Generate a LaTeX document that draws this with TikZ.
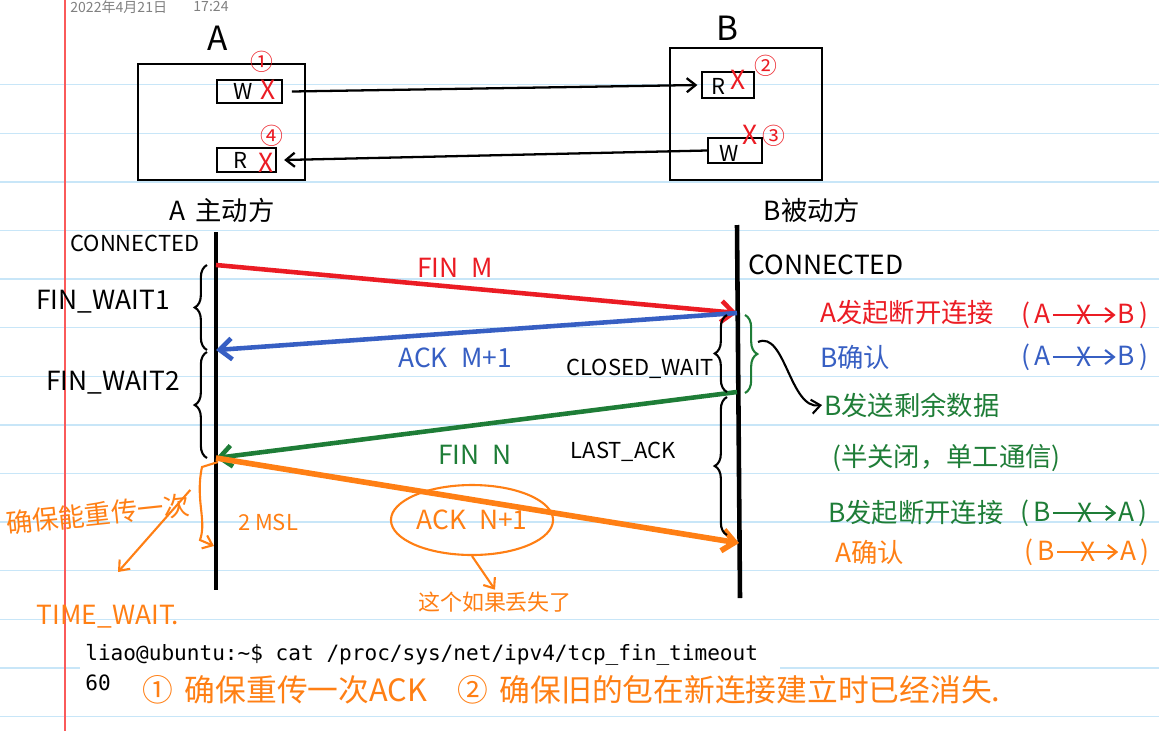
\documentclass[tikz,border=0pt]{standalone}
\usepackage{fontspec}
\setmainfont{Noto Sans CJK SC}
\newfontfamily\termfont{DejaVu Sans Mono}
\usetikzlibrary{decorations.pathreplacing, arrows.meta, shapes.geometric}

\definecolor{penred}{RGB}{235,28,36}
\definecolor{penblue}{RGB}{55,95,195}
\definecolor{pengreen}{RGB}{30,125,55}
\definecolor{penorange}{RGB}{255,127,20}
\definecolor{ruleblue}{RGB}{200,230,248}
\definecolor{marginred}{RGB}{250,90,90}

\tikzset{
  hand/.style={font=\fontsize{15}{18}\selectfont, inner sep=1pt},
  small hand/.style={font=\fontsize{12.5}{15}\selectfont, inner sep=1pt},
  big hand/.style={font=\fontsize{17.5}{20}\selectfont, inner sep=1pt},
  crossmark/.style={penred, font=\fontsize{15}{15}\selectfont, inner sep=0pt},
  circnum/.style={penred, font=\fontsize{13}{13}\selectfont, inner sep=0pt},
  membox/.style={draw, line width=1.3pt, inner sep=0pt},
  pipe/.style={line width=1.3pt, -{Straight Barb[length=5pt, width=8pt]}},
  lifeline/.style={line width=2.6pt},
  msg/.style={line width=2.6pt, -{Straight Barb[length=7pt, width=12pt]}},
  hbrace/.style={decorate, decoration={brace, amplitude=7pt}, line width=1.2pt},
  notearrow/.style={line width=1.2pt, -{Straight Barb[length=5pt, width=8pt]}}
}

\begin{document}
\begin{tikzpicture}[x=0.02cm, y=-0.02cm]
	\useasboundingbox (0,0) rectangle (1159,731);

	% notebook paper
	\foreach \k in {1,...,14}
		\draw[ruleblue, line width=0.8pt] (0,36+48.6*\k) -- (1159,36+48.6*\k);
	\fill[white] (80,630) rectangle (780,705);
	\draw[marginred, line width=0.8pt] (65,0) -- (65,731);

	\node[gray, font=\fontsize{8}{9}\selectfont, anchor=west, inner sep=0pt] (date) at (70,7) {2022年4月21日};
	\node[gray, font=\fontsize{8}{9}\selectfont, inner sep=0pt] (time) at (211,6) {17:24};

	% the two hosts
	\node[font=\fontsize{19}{20}\selectfont] (nameA) at (218,38) {A};
	\node[font=\fontsize{19}{20}\selectfont] (nameB) at (727,28) {B};
	\node[membox, minimum width=3.34cm, minimum height=2.32cm] (boxA) at (221.5,122) {};
	\node[membox, minimum width=3.04cm, minimum height=2.64cm] (boxB) at (746,114) {};

	\node[membox, minimum width=1.3cm, minimum height=0.46cm] (wA) at (249.5,91.5) {};
	\node[membox, minimum width=1.18cm, minimum height=0.48cm] (rA) at (246.5,160) {};
	\node[membox, minimum width=1.04cm, minimum height=0.52cm] (rB) at (728,85) {};
	\node[membox, minimum width=1.08cm, minimum height=0.5cm] (wB) at (735,150.5) {};

	\node[small hand] (wAtxt) at (243,91) {W};
	\node[small hand] (rAtxt) at (240,160) {R};
	\node[small hand] (rBtxt) at (718,86) {R};
	\node[small hand] (wBtxt) at (729,153) {W};

	\node[crossmark] (xwA) at (268,90) {X};
	\node[crossmark] (xrA) at (266,163) {X};
	\node[crossmark] (xrB) at (738,80) {X};
	\node[crossmark] (xwB) at (750,135) {X};
	\node[circnum] (n1) at (262,62) {①};
	\node[circnum] (n4) at (272,136) {④};
	\node[circnum] (n2) at (766,66) {②};
	\node[circnum] (n3) at (774,136) {③};

	\draw[pipe] ([xshift=5pt]wA.east) -- ([xshift=-2pt]rB.west);
	\draw[pipe] (wB.west) -- ([xshift=4pt]rA.east);

	% time lines
	\node[hand] (roleA) at (222,210) {A\, 主动方};
	\node[hand] (roleB) at (812,210) {B被动方};
	\coordinate (Atop) at (216,232);
	\coordinate (Abot) at (216,590);
	\coordinate (Btop) at (737,225);
	\coordinate (Bbot) at (740,598);
	\draw[lifeline] (Atop) -- (Abot);
	\draw[lifeline] (Btop) -- (Bbot);

	\coordinate (a1) at (216,265);
	\coordinate (b1) at (737,313);
	\coordinate (a2) at (216,350);
	\coordinate (b2) at (737,392);
	\coordinate (a3) at (216,458);
	\coordinate (b3) at (739,543);

	\draw[msg, penred] (a1) -- (b1);
	\draw[msg, penblue] (b1) -- (a2);
	\draw[msg, pengreen] (b2) -- (a3);
	\draw[msg, penorange, line width=3.2pt] (a3) -- (b3);

	\node[hand, penred] (finM) at (455,268) {FIN\; M};
	\node[hand, penblue] (ackM) at (455,358) {ACK\; M+1};
	\node[hand, pengreen] (finN) at (475,455) {FIN\; N};
	\node[hand, penorange, draw, ellipse, line width=1.2pt, minimum width=3.2cm, minimum height=1.4cm] (ackN) at (472,520) {ACK\; N+1};
	\node[small hand, penorange] (lost) at (495,602) {这个如果丢失了};
	\draw[notearrow, penorange] (ackN.south) -- (lost.north);

	% states
	\node[small hand] (connA) at (135,243) {CONNECTED};
	\node[hand] (connB) at (826,265) {CONNECTED};
	\node[hand] (fw1) at (103,302) {FIN\_WAIT1};
	\node[hand] (fw2) at (113,383) {FIN\_WAIT2};
	\node[small hand] (cw) at (640,369) {CLOSED\_WAIT};
	\node[small hand] (la) at (623,452) {LAST\_ACK};
	\node[hand, penorange] (tw) at (108,617) {TIME\_WAIT.};
	\node[small hand, penorange] (msl) at (268,522) {2 MSL};

	\draw[hbrace] (207,350) -- (207,265);
	\draw[hbrace] (207,458) -- (207,352);
	\draw[hbrace] (727,392) -- (727,315);
	\draw[hbrace] (727,535) -- (727,397);
	\draw[hbrace, pengreen] (745,315) -- (745,393);

	\coordinate (twend) at (214,546);
	\draw[notearrow, penorange] (218,462) -- (202,467) .. controls (195,500) and (207,520) .. (200,540) -- (twend);
	\node[hand, penorange, rotate=6] (retx) at (98,514) {确保能重传一次};
	\draw[notearrow, penorange] (retx.north east) -- (118,572);

	% notes on the right
	\coordinate (gtip) at (758,342);
	\node[hand, pengreen, anchor=west] (remain) at (822,405) {B发送剩余数据};
	\draw[notearrow] (gtip) .. controls (785,330) and (790,410) .. (remain.west);

	\node[hand, penred, anchor=west] (t1) at (818,313) {A发起断开连接};
	\node[hand, penred] (t1l) at (1036,315) {(\,A};
	\node[hand, penred] (t1r) at (1133,315) {B\,)};
	\draw[notearrow, penred] (t1l) -- node[crossmark] {X} (t1r);

	\node[hand, penblue, anchor=west] (t2) at (818,357) {B确认};
	\node[hand, penblue] (t2l) at (1036,357) {(\,A};
	\node[hand, penblue] (t2r) at (1133,357) {B\,)};
	\draw[notearrow, penblue] (t2l) -- node[crossmark, penblue] {X} (t2r);

	\node[hand, pengreen, anchor=west] (t4) at (830,458) {(半关闭，单工通信)};

	\node[hand, pengreen, anchor=west] (t5) at (826,513) {B发起断开连接};
	\node[hand, pengreen] (t5l) at (1036,513) {(\,B};
	\node[hand, pengreen] (t5r) at (1133,513) {A\,)};
	\draw[notearrow, pengreen] (t5l) -- node[crossmark, pengreen] {X} (t5r);

	\node[hand, penorange, anchor=west] (t6) at (833,552) {A确认};
	\node[hand, penorange] (t6l) at (1040,552) {(\,B};
	\node[hand, penorange] (t6r) at (1135,552) {A\,)};
	\draw[notearrow, penorange] (t6l) -- node[crossmark, penorange] {X} (t6r);

	% terminal
	\node[font=\termfont\fontsize{12}{14}\selectfont, anchor=west, inner sep=0pt] (cmd) at (85,655) {liao@ubuntu:\textasciitilde\$ cat /proc/sys/net/ipv4/tcp\_fin\_timeout};
	\node[font=\termfont\fontsize{12}{14}\selectfont, anchor=west, inner sep=0pt] (val) at (85,683) {60};

	\node[big hand, penorange, anchor=west] (note1) at (140,690) {①\, 确保重传一次ACK};
	\node[big hand, penorange, anchor=west] (note2) at (455,690) {②\, 确保旧的包在新连接建立时已经消失.};

\end{tikzpicture}
\end{document}
